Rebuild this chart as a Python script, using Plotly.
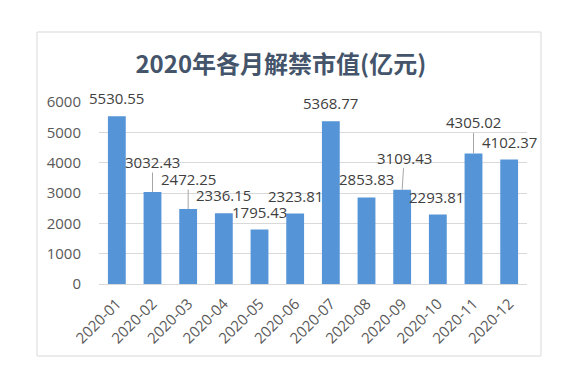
import plotly.graph_objects as go

months = ["2020-01", "2020-02", "2020-03", "2020-04", "2020-05", "2020-06",
          "2020-07", "2020-08", "2020-09", "2020-10", "2020-11", "2020-12"]
values = [5530.55, 3032.43, 2472.25, 2336.15, 1795.43, 2323.81,
          5368.77, 2853.83, 3109.43, 2293.81, 4305.02, 4102.37]
y_ticks = [0, 1000, 2000, 3000, 4000, 5000, 6000]

# label placement (pixel offsets of label centre from bar top) and leader-line flags
label_dx = [0, 0, 0, 0, 0, 0, 0, 0, 2, -1, 0, 0]
label_dy = [18, 30, 30, 18, 18, 18, 18, 18, 32, 17, 31, 18]
leader = [False, True, True, False, False, False, False, False, True, False, True, False]

fig = go.Figure()
fig.add_trace(go.Bar(
    x=months, y=values,
    marker=dict(color="#5595D7", line=dict(width=0)),
    width=0.5,
    hoverinfo="x+y",
))

label_font = dict(family="Open Sans, Noto Sans CJK SC", size=15, color="#404040")
for m, v, dx, dy, ld in zip(months, values, label_dx, label_dy, leader):
    txt = f"{v:.2f}"
    if ld:
        fig.add_annotation(x=m, y=v, text=txt, showarrow=True, arrowhead=0,
                           arrowwidth=1, arrowcolor="#A6A6A6", ax=dx, ay=-dy,
                           standoff=0, font=label_font, borderpad=0)
    else:
        fig.add_annotation(x=m, y=v, text=txt, showarrow=False,
                           xshift=dx, yshift=dy, font=label_font)

# outer chart border
fig.add_shape(type="rect", xref="paper", yref="paper",
              x0=-0.1449, x1=1.0327, y0=-0.3956, y1=1.3846,
              line=dict(color="#D9D9D9", width=1), fillcolor="rgba(0,0,0,0)",
              layer="below")

fig.update_layout(
    width=558, height=357,
    margin=dict(l=91, r=39, t=94, b=81, autoexpand=False),
    paper_bgcolor="white", plot_bgcolor="white",
    showlegend=False,
    title=dict(text="<b>2020年各月解禁市值(亿元)</b>",
               x=0.489, xanchor="center", y=1 - 57 / 357, yanchor="middle",
               font=dict(family="Noto Sans CJK SC", size=24, color="#44546A")),
    bargap=0.5,
    xaxis=dict(type="category", range=[-0.5, 11.5], tickangle=-45, showgrid=False,
               showline=True, linecolor="#D9D9D9", ticks="", automargin=False,
               ticklabelstandoff=4,
               tickfont=dict(family="Open Sans, Noto Sans CJK SC", size=15, color="#595959")),
    yaxis=dict(range=[0, 6000], tickvals=y_ticks, showgrid=True, gridcolor="#D9D9D9",
               zeroline=False, showline=False, ticks="", automargin=False,
               ticklabelstandoff=17,
               tickfont=dict(family="Open Sans, Noto Sans CJK SC", size=15, color="#595959")),
)

fig.write_html("out.html")
